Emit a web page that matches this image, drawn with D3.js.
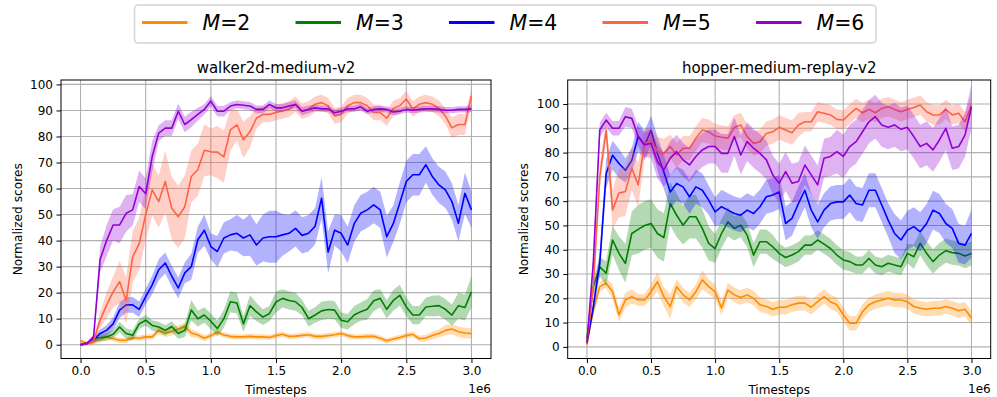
<!DOCTYPE html>
<html>
<head>
<meta charset="utf-8">
<script src="https://cdn.jsdelivr.net/npm/d3@7"></script>
<style>
  body { margin: 0; background: #fff; }
  svg { display: block; font-family: "DejaVu Sans", sans-serif; }
</style>
</head>
<body>
<svg id="chart"></svg>
<script>
// timesteps (in 1e6)
const timesteps = [
  0, 0.05, 0.1, 0.15, 0.2, 0.25, 0.3, 0.35, 0.4, 0.45,
  0.5, 0.55, 0.6, 0.65, 0.7, 0.75, 0.8, 0.85, 0.9, 0.95,
  1.0, 1.05, 1.1, 1.15, 1.2, 1.25, 1.3, 1.35, 1.4, 1.45,
  1.5, 1.55, 1.6, 1.65, 1.7, 1.75, 1.8, 1.85, 1.9, 1.95,
  2.0, 2.05, 2.1, 2.15, 2.2, 2.25, 2.3, 2.35, 2.4, 2.45,
  2.5, 2.55, 2.6, 2.65, 2.7, 2.75, 2.8, 2.85, 2.9, 2.95,
  3.0
];
const legendLabels = ['M=2', 'M=3', 'M=4', 'M=5', 'M=6'];
const seriesColors = ['#ff8c00', '#008000', '#0000ff', '#ff6347', '#9400d3'];
const xTicks = [0, 0.5, 1.0, 1.5, 2.0, 2.5, 3.0];
const yTicks = [0, 10, 20, 30, 40, 50, 60, 70, 80, 90, 100];

// walker2d-medium-v2
const walkerM2 = [
  1.5, 0.5, 1, 2, 3, 2.3, 1.7, 1.7, 2.7, 2.5,
  3, 3, 5.5, 4.5, 5, 6, 7, 4.5, 3.7, 2.5,
  3.5, 4.8, 3.7, 3.2, 3, 3, 3.2, 3, 3, 2.8,
  3.5, 4, 3.2, 3.3, 3.6, 3.8, 3.2, 3.2, 3.5, 3.8,
  4.3, 3.5, 3, 3, 3.2, 3.2, 2.5, 1.5, 2.2, 2.8,
  3.5, 4, 2.3, 2.6, 3.5, 4.3, 5.5, 6, 5, 4.5,
  4.3
];
const walkerM2Sd = [
  0.8, 0.8, 1, 1, 1, 1, 1, 1, 1, 1,
  1, 1, 1.5, 1.5, 1.5, 1.5, 1.5, 1.5, 1.2, 1.2,
  1, 1, 1, 1, 1, 1, 1, 1, 1, 1,
  1, 1, 1, 1, 1, 1, 1, 1, 1, 1,
  1, 1, 1, 1, 1, 1, 1, 1, 1, 1,
  1, 1, 1.2, 1.2, 1.5, 1.5, 2, 2, 2, 2,
  2
];
const walkerM3 = [
  0, 0.5, 2.5, 2.7, 3, 4, 6.8, 4.3, 3.6, 8,
  9.4, 7.4, 6.8, 5.5, 7, 4.3, 5.5, 13.3, 10, 11.4,
  9, 6.2, 10, 16.5, 16, 8, 15, 12.6, 10.6, 12,
  16.4, 17.8, 17, 16.5, 14.3, 10, 11.4, 13, 13.5, 13.3,
  9.4, 8.8, 11.4, 12.7, 13.6, 16.9, 17.8, 13.6, 17, 19,
  14.5, 11.4, 11.4, 14.5, 14.8, 15, 13.6, 11.4, 15, 14.3,
  20.3
];
const walkerM3Sd = [
  0.5, 0.5, 1, 1.5, 1.5, 1.5, 2, 2, 2, 2,
  2, 2, 2, 2, 2, 2, 2.5, 4, 3, 3,
  3, 3, 3.5, 4, 4, 3, 4, 3.5, 3, 3,
  4, 3.5, 3.5, 3.5, 3, 3, 3, 3.5, 3.5, 3.5,
  3, 3, 3.5, 3.5, 4, 4, 3.5, 3.5, 4, 4,
  3.5, 3.5, 3.5, 3.5, 4, 4, 4, 4, 5, 5,
  6
];
const walkerM4 = [
  0, 0.5, 1.7, 4.3, 5.5, 8, 13.3, 15.3, 15.3, 13.6,
  18.5, 23, 28.8, 31.4, 26.3, 21.8, 27.6, 30, 40.3, 44,
  37.7, 35.8, 41, 42.2, 42.8, 41, 42.2, 38.3, 41, 41.5,
  41.5, 42.2, 42.8, 44.7, 42, 42.8, 45.5, 56.3, 35.6, 44,
  42.8, 38.3, 46.5, 50.5, 51.8, 53.7, 51.8, 41.5, 46.5, 54.4,
  62.7, 65.3, 65.3, 69.2, 64.6, 61.4, 59.5, 55, 46.7, 58.2,
  51.8
];
const walkerM4Sd = [
  0.5, 0.5, 1, 1.5, 2, 2.5, 3, 3, 3, 3,
  3, 3.5, 4, 4, 4, 4, 4, 5, 5, 6,
  5, 6, 6, 6, 7, 7, 8, 8, 9, 10,
  10, 8, 7, 7, 7, 7, 7, 8, 8, 6,
  7, 7, 7, 7, 7, 7, 7, 8, 7, 8,
  8, 8, 8, 7, 7, 7, 7, 7, 7, 8,
  7
];
const walkerM5 = [
  0, 0.5, 1.4, 9.4, 15.2, 20.3, 24.2, 17, 33.7, 38.8,
  50, 59.5, 55, 62.7, 52.4, 49.2, 53, 64.6, 67.2, 74.7,
  74.1, 74, 72.2, 82.5, 84.5, 78.7, 81.8, 87, 88.5, 88.5,
  89.2, 89.8, 90.5, 92.4, 89.8, 90.5, 92.4, 93, 91.8, 87.9,
  88.5, 91.8, 93, 93, 91.8, 89.2, 89.2, 87, 90.8, 91.8,
  94.4, 90.5, 92.4, 93, 92.4, 90.8, 87.9, 83.3, 84.6, 84.6,
  95.6
];
const walkerM5Sd = [
  0.5, 0.5, 1, 3, 5, 6, 8, 9, 10, 10,
  10, 10, 10, 12, 12, 12, 12, 10, 10, 10,
  9, 10, 10, 8, 6, 7, 6, 4, 3, 3,
  3, 3, 3, 3, 3, 3, 3, 3, 3, 3,
  3, 3, 3, 3, 3, 3, 3, 3, 3, 3,
  3, 3, 3, 3, 3, 3, 3, 4, 4, 4,
  3
];
const walkerM6 = [
  0, 0.5, 3, 32.7, 40, 46, 46, 50.5, 51.8, 60.8,
  58, 72.3, 81.3, 83.2, 83.2, 89.7, 84.6, 86.5, 88.5, 90.4,
  93.6, 89.7, 89.7, 91.7, 92.3, 92, 91.7, 90.4, 90.4, 92.3,
  91, 91, 91.7, 92.3, 89.7, 90.4, 91, 90.6, 90.6, 89.1,
  89.7, 90.6, 90.6, 91.4, 89.7, 90.4, 90.6, 90.4, 89.4, 89.7,
  90.4, 90.1, 90.4, 90.6, 90.6, 90.4, 90.1, 90.1, 90.4, 90.4,
  90.6
];
const walkerM6Sd = [
  0.5, 0.5, 1, 5, 6, 6, 7, 7, 6, 6,
  6, 6, 3, 3, 3, 3, 3, 3, 2.5, 2,
  2, 2, 2, 1.5, 1.5, 1.5, 1.5, 1.5, 1.5, 1.5,
  1.5, 1.5, 1.5, 1.5, 1.5, 1.5, 1.2, 1.2, 1.2, 1.2,
  1.2, 1.2, 1.2, 1.2, 1.2, 1.2, 1.2, 1.2, 1.2, 1.2,
  1.2, 1.2, 1.2, 1.2, 1.2, 1.2, 1.2, 1.2, 1.2, 1.2,
  1.2
];

// hopper-medium-replay-v2
const hopperM2 = [
  0.8, 15, 24.8, 26.2, 22.7, 13.2, 19.3, 20.7, 19.3, 19.3,
  22.7, 26.8, 20.7, 16.6, 24.8, 21.4, 19.3, 22.7, 27.6, 24.8,
  22.7, 16, 23.4, 21.4, 20.3, 21.4, 20, 17.3, 16.6, 15.5,
  16.3, 16.3, 17.3, 18, 18, 16.3, 18.6, 20.7, 18.6, 17.3,
  13.2, 9.7, 9.7, 14.5, 17.3, 18.6, 19.3, 20, 19.3, 19.3,
  18.6, 16.6, 15.9, 15.5, 15.9, 15.9, 16.6, 15.9, 14.9, 15.5,
  11.8
];
const hopperM2Sd = [
  0.5, 2, 2, 2, 3, 3, 3, 3, 2.5, 2.5,
  3, 4, 4, 5, 3, 3, 3, 3, 4, 3,
  3, 3, 3, 3, 3, 3, 3, 3, 3, 3,
  3, 3, 3, 3, 3, 3, 3, 3, 3, 3,
  3, 3, 3, 3, 3, 3, 3, 3, 3, 3,
  3, 3, 3, 3, 3, 3, 3, 3, 3, 3,
  3
];
const hopperM3 = [
  3.6, 24.8, 33, 30.3, 44, 38.5, 34.4, 46.7, 48.4, 50,
  50.8, 46.7, 45, 59, 54.2, 50.1, 53.6, 53.6, 48.8, 42.6,
  40.5, 46.7, 51.5, 48.8, 50.1, 46, 37.8, 43.3, 43.3, 41.2,
  38.5, 36.8, 37.8, 39.2, 41.9, 41.9, 44, 42.3, 40.5, 37.8,
  35.8, 35.1, 33.7, 33.7, 36.4, 33.7, 33, 34.4, 33.7, 33,
  38.5, 37.1, 42.6, 38.5, 35.1, 37.8, 39.6, 38.8, 38.5, 37.4,
  38.5
];
const hopperM3Sd = [
  1, 3, 4, 5, 6, 7, 8, 9, 10, 10,
  10, 10, 10, 9, 9, 8, 9, 9, 8, 7,
  6, 6, 6, 5, 5, 5, 5, 5, 5, 5,
  4, 4, 4, 4, 4, 4, 4, 4, 4, 4,
  4, 4, 3.5, 3.5, 3.5, 3.5, 3.5, 3.5, 3.5, 3.5,
  4, 5, 5, 5, 5, 5, 5, 5, 5, 5,
  5
];
const hopperM4 = [
  1.5, 16.6, 34.4, 71.4, 78.9, 75.5, 72.7, 76.8, 86.7, 83,
  89.2, 79.6, 72, 63.8, 67.3, 65.9, 61.8, 65.9, 64.5, 60.4,
  55.6, 57.7, 56.3, 54.9, 54.2, 56.3, 54.9, 57.7, 61.8, 62.5,
  63.8, 50.8, 52.9, 59, 64.5, 56.3, 51.5, 56.3, 59, 59.7,
  59.7, 62.5, 59, 58.4, 64.5, 64.5, 58.4, 52.2, 46.7, 44,
  48, 49.5, 47.4, 50.8, 56.3, 54.9, 50.8, 48.8, 42.6, 41.9,
  46.7
];
const hopperM4Sd = [
  0.5, 3, 5, 6, 6, 6, 5, 5, 6, 6,
  6, 7, 7, 7, 7, 7, 7, 7, 7, 6,
  6, 7, 7, 7, 7, 7, 7, 7, 7, 7,
  7, 7, 7, 7, 7, 7, 7, 7, 7, 7,
  7, 7, 7, 7, 7, 7, 7, 7, 8, 8,
  8, 8, 8, 8, 8, 8, 8, 8, 8, 8,
  10
];
const hopperM5 = [
  1.5, 25, 70, 89.3, 56.4, 63.3, 64, 73.6, 66.7, 83.8,
  85.2, 80.4, 79.7, 82.5, 79, 81.8, 81.8, 85.9, 89.3, 88.6,
  86.8, 86.3, 85.9, 90.4, 91.4, 86.6, 83.8, 84.5, 87.9, 88.6,
  90.4, 89.3, 88.2, 91.4, 92.7, 92.7, 96.8, 96.2, 95.5, 93.7,
  93.4, 95.9, 98.2, 96.4, 97.8, 96.4, 98.2, 98.9, 97.8, 96.8,
  97.8, 98.6, 99.6, 96.8, 95.5, 95.5, 97.8, 95.5, 96.2, 92.7,
  99.6
];
const hopperM5Sd = [
  0.5, 3, 5, 4, 8, 10, 10, 9, 9, 6,
  5, 6, 6, 5, 5, 5, 5, 5, 5, 5,
  5, 5, 5, 5, 5, 5, 5, 5, 5, 5,
  5, 5, 5, 5, 4, 4, 4, 4, 4, 4,
  4, 4, 4, 4, 4, 4, 4, 4, 4, 4,
  4, 4, 4, 4, 4, 4, 4, 4, 4, 4,
  4
];
const hopperM6 = [
  1.5, 35, 89.3, 93.4, 90, 90, 94.8, 94.1, 86.6, 83.2,
  83.8, 76.3, 72.9, 77.7, 80.4, 77, 74.9, 78.4, 81.1, 82.5,
  82.5, 79.7, 79.7, 86.6, 79, 84.5, 81.8, 79.7, 77, 70.8,
  67.4, 72.2, 67.4, 68.1, 74.9, 70.8, 66.7, 77.7, 78.4, 80.4,
  78.4, 82.5, 84.5, 88.6, 92.7, 94.8, 91.4, 90.4, 91.4, 89.6,
  90.4, 86.6, 82.5, 83.8, 81.1, 85.2, 90, 81.8, 82.5, 87.3,
  98.9
];
const hopperM6Sd = [
  0.5, 3, 3, 3, 3, 3, 4, 4, 4, 5,
  6, 7, 7, 7, 7, 7, 7, 7, 7, 7,
  7, 8, 8, 8, 8, 8, 8, 8, 8, 8,
  8, 8, 8, 8, 8, 8, 8, 8, 8, 9,
  9, 9, 9, 9, 9, 9, 9, 9, 9, 9,
  9, 9, 9, 9, 9, 9, 9, 9, 9, 9,
  9
];

const W = 997, H = 397;
const plotTop = 80, plotBottom = 358.5;

const panels = [
  {
    title: 'walker2d-medium-v2',
    left: 61, right: 491,
    yDomain: [-5.3, 101.7],
    means: [walkerM2, walkerM3, walkerM4, walkerM5, walkerM6],
    sds: [walkerM2Sd, walkerM3Sd, walkerM4Sd, walkerM5Sd, walkerM6Sd],
  },
  {
    title: 'hopper-medium-replay-v2',
    left: 567.7, right: 990.7,
    yDomain: [-4.8, 109.9],
    means: [hopperM2, hopperM3, hopperM4, hopperM5, hopperM6],
    sds: [hopperM2Sd, hopperM3Sd, hopperM4Sd, hopperM5Sd, hopperM6Sd],
  },
];

const svg = d3.select('#chart').attr('width', W).attr('height', H);

panels.forEach((p, pi) => {
  const x = d3.scaleLinear().domain([-0.15, 3.15]).range([p.left, p.right]);
  const y = d3.scaleLinear().domain(p.yDomain).range([plotBottom, plotTop]);
  const g = svg.append('g');

  // clip for the data
  const clipId = 'clip' + pi;
  svg.append('clipPath').attr('id', clipId)
    .append('rect')
    .attr('x', p.left).attr('y', plotTop)
    .attr('width', p.right - p.left).attr('height', plotBottom - plotTop);

  // grid
  g.append('g').selectAll('line').data(xTicks).join('line')
    .attr('x1', d => x(d)).attr('x2', d => x(d))
    .attr('y1', plotTop).attr('y2', plotBottom)
    .attr('stroke', '#b0b0b0').attr('stroke-width', 1.1);
  g.append('g').selectAll('line').data(yTicks).join('line')
    .attr('x1', p.left).attr('x2', p.right)
    .attr('y1', d => y(d)).attr('y2', d => y(d))
    .attr('stroke', '#b0b0b0').attr('stroke-width', 1.1);

  // bands + lines
  const plot = g.append('g').attr('clip-path', `url(#${clipId})`);
  p.means.forEach((m, si) => {
    const pts = timesteps.map((t, i) => ({ t, v: m[i], s: p.sds[si][i] }));
    plot.append('path').datum(pts)
      .attr('d', d3.area().x(d => x(d.t)).y0(d => y(d.v - d.s)).y1(d => y(d.v + d.s)))
      .attr('fill', seriesColors[si]).attr('fill-opacity', 0.3);
    plot.append('path').datum(pts)
      .attr('d', d3.line().x(d => x(d.t)).y(d => y(d.v)))
      .attr('fill', 'none').attr('stroke', seriesColors[si])
      .attr('stroke-width', 1.6).attr('stroke-linejoin', 'round');
  });

  // axes
  const xAxis = g.append('g').attr('transform', `translate(0,${plotBottom})`)
    .call(d3.axisBottom(x).tickValues(xTicks).tickFormat(d3.format('.1f'))
      .tickSize(4.5).tickPadding(3.5).tickSizeOuter(0));
  const yAxis = g.append('g').attr('transform', `translate(${p.left},0)`)
    .call(d3.axisLeft(y).tickValues(yTicks).tickSize(4.5).tickPadding(3.5).tickSizeOuter(0));
  [xAxis, yAxis].forEach(a => {
    a.select('.domain').remove();
    a.selectAll('text').attr('font-size', 12).attr('fill', '#000')
      .attr('font-family', '"DejaVu Sans", sans-serif');
    a.selectAll('line').attr('stroke', '#000').attr('stroke-width', 1);
  });

  // frame
  g.append('rect')
    .attr('x', p.left).attr('y', plotTop)
    .attr('width', p.right - p.left).attr('height', plotBottom - plotTop)
    .attr('fill', 'none').attr('stroke', '#000').attr('stroke-width', 1);

  // texts
  const cx = (p.left + p.right) / 2;
  g.append('text').attr('x', cx).attr('y', 73)
    .attr('text-anchor', 'middle').attr('font-size', 15).text(p.title);
  g.append('text').attr('x', cx).attr('y', 394)
    .attr('text-anchor', 'middle').attr('font-size', 12).text('Timesteps');
  g.append('text').attr('x', p.right).attr('y', 393)
    .attr('text-anchor', 'end').attr('font-size', 12).text('1e6');
  g.append('text')
    .attr('transform', `translate(${p.left - 39.5},${(plotTop + plotBottom) / 2}) rotate(-90)`)
    .attr('text-anchor', 'middle').attr('font-size', 12.2).text('Normalized scores');
});

// legend
const legend = svg.append('g');
legend.append('rect')
  .attr('x', 134.5).attr('y', 5).attr('width', 741.5).attr('height', 38)
  .attr('rx', 3.5).attr('fill', '#fff').attr('stroke', '#d4d4d4').attr('stroke-width', 1.5);
const lx = d3.scalePoint().domain(legendLabels).range([142, 756]);
legendLabels.forEach((lab, i) => {
  const x0 = lx(lab);
  legend.append('line')
    .attr('x1', x0).attr('x2', x0 + 45.5).attr('y1', 22.5).attr('y2', 22.5)
    .attr('stroke', seriesColors[i]).attr('stroke-width', 3);
  const t = legend.append('text').attr('x', x0 + 60.5).attr('y', 30).attr('font-size', 20.5);
  t.append('tspan').attr('font-style', 'italic').text(lab.slice(0, 1));
  t.append('tspan').text(lab.slice(1));
});
</script>
</body>
</html>
